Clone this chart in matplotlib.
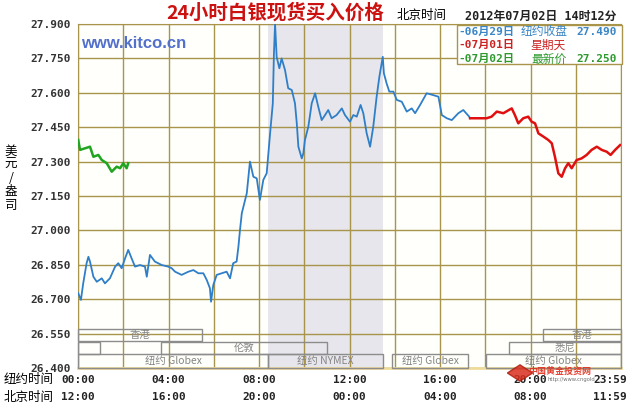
import matplotlib
matplotlib.use("Agg")
import matplotlib.pyplot as plt
from matplotlib.patches import Rectangle, RegularPolygon
import matplotlib.transforms as mtransforms

plt.rcParams['font.family'] = ['DejaVu Sans', 'Noto Sans CJK SC']

# hours on NY clock (0-24) and price in USD/oz
blue_hours = [0.01, 0.13, 0.23, 0.38, 0.46, 0.53, 0.68, 0.83, 1.05, 1.19, 1.41, 1.64, 1.78, 1.93,
              2.08, 2.22, 2.37, 2.52, 2.74, 2.96, 3.04, 3.18, 3.40, 3.70, 3.99, 4.14, 4.29, 4.58,
              4.88, 5.10, 5.32, 5.54, 5.69, 5.83, 5.88, 5.98, 6.13, 6.35, 6.57, 6.72, 6.86, 7.01,
              7.09, 7.16, 7.24, 7.46, 7.60, 7.75, 7.90, 8.04, 8.19, 8.34, 8.49, 8.61, 8.66, 8.71,
              8.78, 8.90, 9.00, 9.15, 9.29, 9.45, 9.59, 9.67, 9.74, 9.89, 9.96, 10.03, 10.18, 10.33,
              10.48, 10.62, 10.77, 10.92, 11.06, 11.21, 11.43, 11.66, 11.80, 12.02, 12.17, 12.32,
              12.49, 12.61, 12.76, 12.91, 13.05, 13.20, 13.32, 13.47, 13.52, 13.64, 13.76, 13.94,
              14.09, 14.31, 14.53, 14.75, 14.90, 15.12, 15.41, 15.70, 15.93, 16.08, 16.30, 16.52,
              16.81, 17.03, 17.29, 17.33]
blue_price = [26.726, 26.697, 26.769, 26.857, 26.885, 26.864, 26.798, 26.776, 26.791, 26.769, 26.791,
              26.842, 26.857, 26.835, 26.878, 26.915, 26.878, 26.842, 26.849, 26.842, 26.798, 26.893,
              26.864, 26.849, 26.842, 26.835, 26.820, 26.806, 26.820, 26.827, 26.813, 26.813, 26.784,
              26.748, 26.689, 26.762, 26.806, 26.813, 26.820, 26.791, 26.857, 26.864, 26.929, 27.002,
              27.075, 27.162, 27.300, 27.234, 27.227, 27.133, 27.220, 27.249, 27.423, 27.554, 27.772,
              27.900, 27.757, 27.707, 27.750, 27.699, 27.620, 27.612, 27.554, 27.467, 27.365, 27.314,
              27.336, 27.394, 27.452, 27.554, 27.598, 27.539, 27.481, 27.503, 27.525, 27.489, 27.503,
              27.532, 27.503, 27.474, 27.503, 27.496, 27.547, 27.511, 27.423, 27.365, 27.452, 27.583,
              27.670, 27.757, 27.685, 27.641, 27.605, 27.605, 27.569, 27.561, 27.518, 27.532, 27.511,
              27.547, 27.598, 27.590, 27.583, 27.503, 27.489, 27.481, 27.511, 27.525, 27.496, 27.489]

red_hours = [17.33, 18.06, 18.28, 18.51, 18.80, 19.17, 19.31, 19.46, 19.68, 19.90, 20.05, 20.20,
             20.35, 20.57, 20.79, 20.94, 21.08, 21.23, 21.38, 21.53, 21.67, 21.82, 22.04, 22.26,
             22.48, 22.70, 22.93, 23.15, 23.37, 23.54, 23.74, 23.96]
red_price = [27.489, 27.489, 27.496, 27.518, 27.511, 27.532, 27.503, 27.467, 27.489, 27.496, 27.474,
             27.467, 27.423, 27.409, 27.394, 27.380, 27.321, 27.249, 27.234, 27.271, 27.293, 27.271,
             27.307, 27.314, 27.329, 27.351, 27.365, 27.351, 27.343, 27.329, 27.351, 27.372]

green_hours = [0.01, 0.09, 0.31, 0.53, 0.68, 0.90, 1.05, 1.27, 1.49, 1.71, 1.86, 2.00, 2.15, 2.22]
green_price = [27.394, 27.351, 27.358, 27.365, 27.321, 27.329, 27.307, 27.293, 27.256, 27.278,
               27.271, 27.293, 27.271, 27.293]

yticks = [26.400, 26.550, 26.700, 26.850, 27.000, 27.150, 27.300, 27.450, 27.600, 27.750, 27.900]
ny_hours = [0, 4, 8, 12, 16, 20]
ny_labels = ["00:00", "04:00", "08:00", "12:00", "16:00", "20:00"]
bj_labels = ["12:00", "16:00", "20:00", "00:00", "04:00", "08:00"]

# trading sessions shown at the bottom of the chart
sess_names = ['香港', '', '伦敦', '纽约 Globex', '纽约 NYMEX', '纽约 Globex', '纽约 Globex', '悉尼', '香港']
sess_start = [0, 0, 3.67, 0, 8.4, 13.88, 18.03, 19.05, 20.55]
sess_end = [5.48, 0.97, 11.0, 8.4, 13.5, 17.24, 24, 24, 24]
sess_row = [0, 1, 1, 2, 2, 2, 2, 1, 0]
row_bottom = [26.518, 26.461, 26.400]
row_top = [26.570, 26.513, 26.461]

W, H = 631, 408
GRID = '#A8944A'
MONO = ['DejaVu Sans Mono', 'Noto Sans CJK SC']
CJK = ['Noto Sans CJK SC', 'DejaVu Sans']


def fx(x):
    return x / W


def fy(y):
    return 1 - y / H


fig = plt.figure(figsize=(6.31, 4.08), dpi=100)
ax = fig.add_axes([fx(78), fy(368), 543 / W, 344 / H])
ax.set_facecolor('#FFFFFB')
ax.set_xlim(0, 24)
ax.set_ylim(26.4, 27.9)
ax.set_axisbelow(True)

ax.axvspan(8.4, 13.5, color='#E6E6EC', zorder=0.2, lw=0)

ax.set_xticks(range(0, 25, 2))
ax.set_xticklabels([])
ax.set_yticks(yticks)
ax.set_yticklabels(["%.3f" % v for v in yticks], family='DejaVu Sans Mono',
                   fontweight='bold', fontsize=8, color='#333333')
ax.tick_params(length=0, pad=5)
ax.grid(True, color=GRID, lw=1)
for s in ax.spines.values():
    s.set_color(GRID)
ax.spines['bottom'].set_color('#EEDB9A')
ax.spines['bottom'].set_linewidth(2)

ax.plot(blue_hours, blue_price, color='#2F7FC8', lw=1.3, zorder=3)
ax.plot(red_hours, red_price, color='#E01010', lw=1.8, zorder=3)
ax.plot(green_hours, green_price, color='#1FA51F', lw=1.8, zorder=3)

for name, a, b, r in zip(sess_names, sess_start, sess_end, sess_row):
    ax.add_patch(Rectangle((a, row_bottom[r]), b - a, row_top[r] - row_bottom[r],
                           fill=False, edgecolor='#8C8C8C', lw=1, zorder=4, clip_on=False))
    if name:
        ax.text((a + b) / 2, (row_bottom[r] + row_top[r]) / 2, name, ha='center', va='center',
                fontsize=7.5, color='#858585', family=CJK, zorder=5)

# time axis rows
trans = mtransforms.blended_transform_factory(ax.transData, fig.transFigure)
for h, a, b in zip(ny_hours, ny_labels, bj_labels):
    ax.text(h, fy(380), a, transform=trans, ha='center', va='center', fontsize=8,
            fontweight='bold', family='DejaVu Sans Mono', color='#222222')
    ax.text(h, fy(397), b, transform=trans, ha='center', va='center', fontsize=8,
            fontweight='bold', family='DejaVu Sans Mono', color='#222222')
fig.text(fx(627), fy(380), "23:59", ha='right', va='center', fontsize=8,
         fontweight='bold', family='DejaVu Sans Mono', color='#222222')
fig.text(fx(627), fy(397), "11:59", ha='right', va='center', fontsize=8,
         fontweight='bold', family='DejaVu Sans Mono', color='#222222')
fig.text(fx(4), fy(380), "纽约时间", ha='left', va='center', fontsize=9, family=CJK)
fig.text(fx(4), fy(397), "北京时间", ha='left', va='center', fontsize=9, family=CJK)

# y label, one character per line
fig.text(fx(11), fy(178), "\n".join("美元/盎司"), ha='center', va='center',
         fontsize=9, family=CJK, linespacing=1.05)

# header
fig.text(fx(275), fy(13), "24小时白银现货买入价格", ha='center', va='center',
         fontsize=14, fontweight='bold', color='#CC1111', family=CJK)
fig.text(fx(397), fy(16), "北京时间", ha='left', va='center', fontsize=9, family=CJK)
fig.text(fx(465), fy(16), "2012年07月02日 14时12分", ha='left', va='center', fontsize=8.5,
         fontweight='bold', family=MONO, color='#222222')
fig.text(fx(81), fy(44), "www.kitco.cn", ha='left', va='center', fontsize=12,
         fontweight='bold', family='Liberation Sans', color='#5270CC')

# legend box
fig.add_artist(Rectangle((fx(457), fy(64)), 165 / W, 39 / H, transform=fig.transFigure,
                         facecolor='#FFFFFF', edgecolor=GRID, lw=1, zorder=5))
leg_rows = [("-06月29日", "纽约收盘", "27.490", '#3A86C6', 32, 544),
            ("-07月01日", "星期天", "", '#CC2222', 45, 548),
            ("-07月02日", "最新价", "27.250", '#2E9A2E', 59, 549)]
for d, t, v, c, y, tx in leg_rows:
    fig.text(fx(458), fy(y), d, ha='left', va='center', fontsize=8, fontweight='bold',
             family=MONO, color=c, zorder=6)
    fig.text(fx(tx), fy(y), t, ha='center', va='center', fontsize=8.5,
             family=CJK, color=c, zorder=6)
    if v:
        fig.text(fx(617), fy(y), v, ha='right', va='center', fontsize=8, fontweight='bold',
                 family='DejaVu Sans Mono', color=c, zorder=6)

# cngold watermark
fig.add_artist(RegularPolygon((fx(520), fy(373)), numVertices=4, radius=0.02,
                              transform=fig.transFigure, facecolor='#D93020',
                              edgecolor='#B02010', alpha=0.85, zorder=6))
fig.text(fx(528), fy(371), "中国黄金投资网", ha='left', va='center', fontsize=6.5,
         fontweight='bold', family=CJK, color='#E03020', alpha=0.9, zorder=7)
fig.text(fx(548), fy(379), "http://www.cngold", ha='left', va='center', fontsize=3.8,
         color='#707070', zorder=7)

fig.savefig("out.png", dpi=100)
